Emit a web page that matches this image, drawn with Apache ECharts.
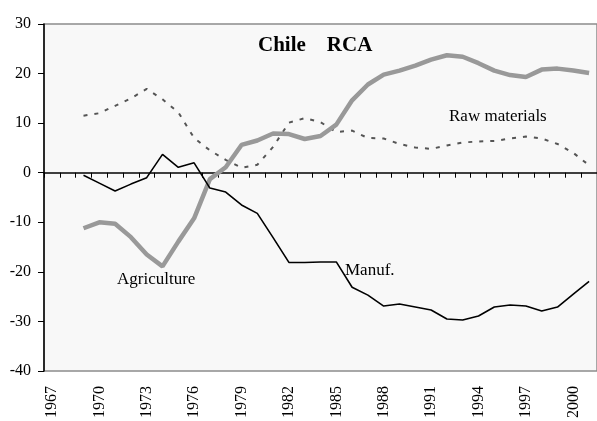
<!DOCTYPE html>
<html>
<head>
<meta charset="utf-8">
<script src="https://cdn.jsdelivr.net/npm/echarts@6/dist/echarts.min.js"></script>
<style>
  html, body { margin: 0; padding: 0; background: #fff; }
  #chart { width: 597px; height: 421px; }
</style>
</head>
<body>
<div id="chart"></div>
<script>
// years on the category axis
var years = []
for (var y = 1967; y <= 2001; y++) years.push(String(y))

// RCA values, 1967..2001 (no data for 1967-1968)
var manuf = [null, null,
  -0.5, -2.1, -3.7, -2.3, -1.0, 3.7, 1.1, 2.0, -3.1, -3.9,
  -6.5, -8.2, -13.1, -18.1, -18.1, -18.0, -18.0, -23.1, -24.7, -26.9,
  -26.5, -27.1, -27.7, -29.5, -29.7, -28.9, -27.1, -26.7, -26.9, -27.9,
  -27.1, -24.5, -21.9]
var rawMaterials = [null, null,
  11.5, 12.0, 13.5, 15.0, 16.9, 14.8, 12.2, 7.0, 4.5, 2.6,
  1.0, 1.6, 5.2, 10.1, 11.0, 10.2, 8.2, 8.5, 7.0, 6.9,
  5.8, 5.1, 4.8, 5.5, 6.1, 6.3, 6.4, 6.9, 7.3, 6.9,
  5.8, 4.0, 1.5]
var agriculture = [null, null,
  -11.2, -10.0, -10.3, -13.0, -16.5, -18.9, -13.9, -9.2, -1.3, 1.1,
  5.6, 6.5, 7.9, 7.8, 6.8, 7.4, 9.7, 14.6, 17.8, 19.8,
  20.6, 21.6, 22.8, 23.7, 23.4, 22.1, 20.6, 19.7, 19.3, 20.8,
  21.0, 20.6, 20.1]

var serif = '"Liberation Serif", "Times New Roman", serif'

var myChart = echarts.init(document.getElementById('chart'), null, { renderer: 'canvas' })
var option = {
  animation: false,
  backgroundColor: '#fff',
  grid: {
    left: 44,
    right: -2,
    top: 24,
    bottom: 47,
    show: true,
    backgroundColor: '#f8f8f8',
    borderColor: '#8c8c8c',
    borderWidth: 1.5
  },
  xAxis: [
    {
      // axis line + ticks through zero
      type: 'category',
      data: years,
      position: 'bottom',
      boundaryGap: true,
      axisLine: { show: true, onZero: true, lineStyle: { color: '#000', width: 1.5 } },
      axisTick: { show: true, interval: 0, length: 5, lineStyle: { color: '#000', width: 1 } },
      axisLabel: { show: false },
      splitLine: { show: false }
    },
    {
      // year labels at the bottom
      type: 'category',
      data: years,
      position: 'bottom',
      boundaryGap: true,
      axisLine: { show: false, onZero: false },
      axisTick: { show: false },
      axisLabel: {
        interval: 2,
        rotate: 90,
        margin: 15,
        color: '#000',
        fontFamily: serif,
        fontSize: 16
      },
      splitLine: { show: false }
    }
  ],
  yAxis: {
    type: 'value',
    min: -40,
    max: 30,
    interval: 10,
    axisLine: { show: true, lineStyle: { color: '#000', width: 1.5 } },
    axisTick: { show: true, length: 6, lineStyle: { color: '#000', width: 1 } },
    axisLabel: { margin: 13, color: '#000', fontFamily: serif, fontSize: 16 },
    splitLine: { show: false }
  },
  series: [
    {
      name: 'Raw materials',
      type: 'line',
      data: rawMaterials,
      showSymbol: false,
      lineStyle: { color: '#555', width: 2, type: [4, 7] }
    },
    {
      name: 'Agriculture',
      type: 'line',
      data: agriculture,
      showSymbol: false,
      lineStyle: { color: '#999', width: 4.5 }
    },
    {
      name: 'Manuf.',
      type: 'line',
      data: manuf,
      showSymbol: false,
      lineStyle: { color: '#000', width: 1.6 }
    }
  ],
  graphic: [
    {
      type: 'text',
      left: 258,
      top: 35,
      style: { text: 'Chile    RCA', font: 'bold 21px ' + serif, fill: '#000' }
    },
    {
      type: 'text',
      left: 449,
      top: 108,
      style: { text: 'Raw materials', font: '17px ' + serif, fill: '#000' }
    },
    {
      type: 'text',
      left: 117,
      top: 271,
      style: { text: 'Agriculture', font: '17px ' + serif, fill: '#000' }
    },
    {
      type: 'text',
      left: 345,
      top: 262,
      style: { text: 'Manuf.', font: '17px ' + serif, fill: '#000' }
    }
  ]
}
myChart.setOption(option)
window.addEventListener('resize', function () {
  myChart.resize()
})
</script>
</body>
</html>
